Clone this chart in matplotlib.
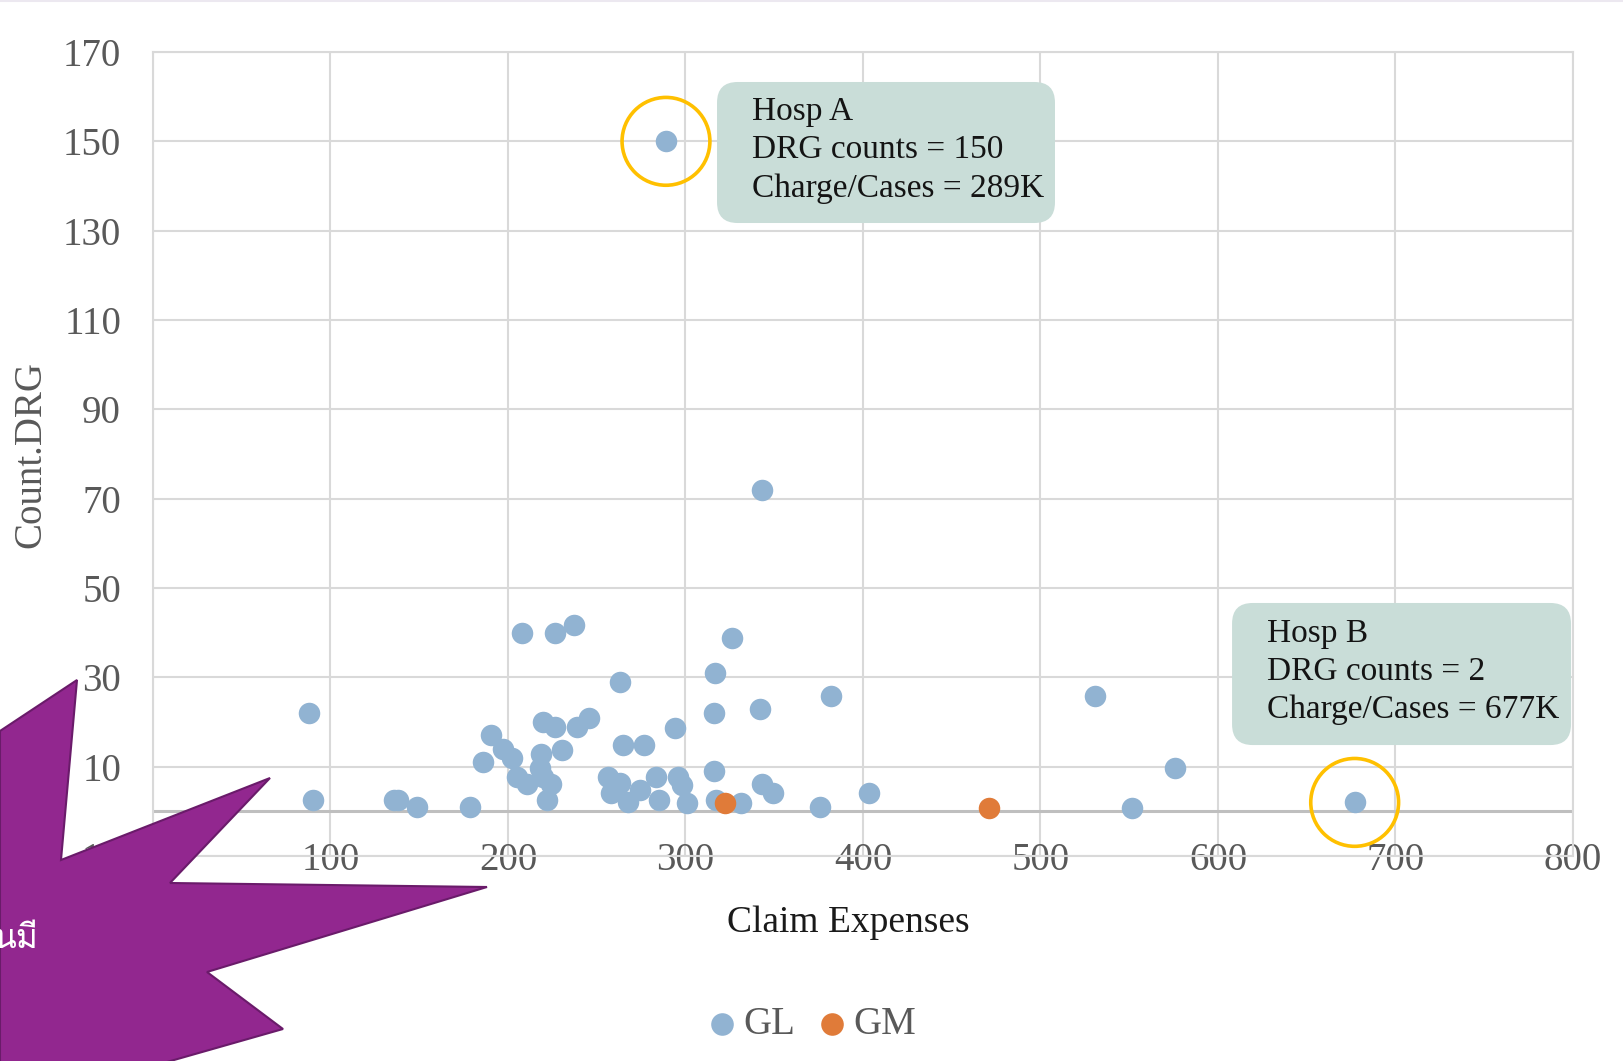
import matplotlib
matplotlib.use('Agg')
import matplotlib.pyplot as plt
from matplotlib.patches import FancyBboxPatch, Polygon
from matplotlib.lines import Line2D
from matplotlib import font_manager
from matplotlib.ft2font import FT2Font

# GL series (claim expenses in K, DRG counts)
gl_x = [88, 90, 135.5, 138, 148.5, 178.7, 208, 226.5, 237.3, 190.4,
        186, 197, 202.3, 205, 210.6, 220, 226.4, 239, 245.8, 230.6,
        218.8, 218.2, 220, 224, 221.7, 263.3, 265, 276.5, 294.3, 316.8,
        326, 316, 341.8, 382, 316, 256.5, 263, 258, 267.5, 274.2,
        283.5, 285, 296, 297.8, 301, 317, 331.3, 343.3, 349.3, 376,
        403.2, 343, 289, 530.7, 551.4, 575.8, 677]
gl_y = [22, 2.6, 2.6, 2.5, 0.9, 0.9, 40, 40, 41.8, 17,
        11.1, 14, 12, 7.7, 6.1, 20, 18.8, 18.8, 20.9, 13.8,
        12.9, 9.7, 7.7, 6.1, 2.5, 29, 14.9, 14.9, 18.7, 31,
        38.8, 22, 22.8, 25.8, 9.1, 7.7, 6.3, 4, 2, 4.7,
        7.7, 2.5, 7.7, 5.9, 1.9, 2.5, 1.9, 6.2, 4, 0.9,
        4, 72, 150, 25.8, 0.8, 9.8, 2]

# GM series
gm_x = [322, 471.2]
gm_y = [1.9, 0.8]

# highlighted hospitals
hosp_x = [289, 677]
hosp_y = [150, 2]
hosp_text = ["Hosp A\nDRG counts = 150\nCharge/Cases = 289K",
             "Hosp B\nDRG counts = 2\nCharge/Cases = 677K"]

x_ticks = [0, 100, 200, 300, 400, 500, 600, 700, 800]
y_ticks = [-10, 10, 30, 50, 70, 90, 110, 130, 150, 170]


def find_thai_font():
    for f in font_manager.fontManager.ttflist:
        try:
            if ord('น') in FT2Font(f.fname).get_charmap():
                return f.name
        except Exception:
            pass
    return 'DejaVu Sans'


plt.rcParams['font.family'] = ['Liberation Serif', 'DejaVu Serif']

W, H = 1624, 1061
fig = plt.figure(figsize=(W / 100, H / 100), dpi=100)
ax = fig.add_axes([153 / W, 1 - 856 / H, 1420 / W, 804 / H])

grid_c = '#D9D9D9'
tick_c = '#595959'

ax.set_xlim(0, 800)
ax.set_ylim(-10, 170)
ax.set_xticks(x_ticks)
ax.set_xticklabels([str(v) for v in x_ticks])
ax.set_yticks(y_ticks)
ax.set_yticklabels([str(v) for v in y_ticks])
ax.grid(True, color=grid_c, lw=1.5, zorder=0)
ax.set_axisbelow(True)
for s in ax.spines.values():
    s.set_color(grid_c)
    s.set_linewidth(1.5)
ax.axhline(0, color='#BFBFBF', lw=2.2, zorder=1)

ax.tick_params(axis='both', length=0, labelsize=28, labelcolor=tick_c)
ax.tick_params(axis='y', pad=23)
ax.tick_params(axis='x', pad=3)
for lab in ax.get_xticklabels():
    lab.set_verticalalignment('center')

blue = '#91B3D2'
orange = '#E07B39'
ax.scatter(gl_x, gl_y, s=240, color=blue, lw=0, zorder=3, label='GL')
ax.scatter(gm_x, gm_y, s=240, color=orange, lw=0, zorder=4, label='GM')

# yellow rings around the two highlighted hospitals
ax.scatter(hosp_x, hosp_y, s=4000, facecolors='none', edgecolors='#FFC000',
           linewidths=2.6, zorder=5)

# annotation boxes (axes fraction)
boxes = [(0.3972, 0.7873, 0.2380, 0.1754, 0.4218, 0.878),
         (0.7599, 0.1380, 0.2387, 0.1767, 0.7845, 0.2289)]
for (bx, by, bw, bh, tx, ty), txt in zip(boxes, hosp_text):
    p = FancyBboxPatch((bx, by), bw, bh,
                       boxstyle='round,pad=0,rounding_size=0.0145',
                       mutation_aspect=1420 / 804,
                       transform=ax.transAxes, facecolor='#C9DDD8',
                       edgecolor='none', zorder=6)
    ax.add_patch(p)
    ax.text(tx, ty, txt, transform=ax.transAxes, ha='left', va='center',
            fontsize=24, color='#141414', linespacing=1.33, zorder=7)

ax.set_ylabel('Count.DRG', fontsize=28, color=tick_c)
ax.yaxis.set_label_coords(-0.073, 0.5)
ax.set_xlabel('Claim Expenses', fontsize=27, color='#1A1A1A')
ax.xaxis.set_label_coords(0.49, -0.061)

leg = fig.legend(loc='center', bbox_to_anchor=(0.5, 0.034), ncol=2,
                 frameon=False, fontsize=28, handlelength=0.7,
                 handletextpad=0.2, columnspacing=0.6, markerscale=1.05)
for t in leg.get_texts():
    t.set_color(tick_c)

# purple callout star from the slide, in pixel coords
star_px = [(0, 731), (77, 680), (61, 860), (270, 778), (170, 883),
           (487, 887), (207, 972), (283, 1029), (160, 1064), (0, 1064)]
star = Polygon([(x / W, 1 - y / H) for x, y in star_px], closed=True,
               transform=fig.transFigure, facecolor='#92278F',
               edgecolor='#6A1B6A', lw=1.5, zorder=20)
fig.add_artist(star)
fig.text(38 / W, 1 - 940 / H, 'นมี', ha='right', va='center',
         fontsize=24, color='white', family=[find_thai_font(), 'DejaVu Sans'],
         zorder=21)

fig.add_artist(Line2D([0, 1], [1 - 1 / H, 1 - 1 / H], transform=fig.transFigure,
                      color='#ECE8F0', lw=1.5))

fig.savefig('out.png', dpi=100)
